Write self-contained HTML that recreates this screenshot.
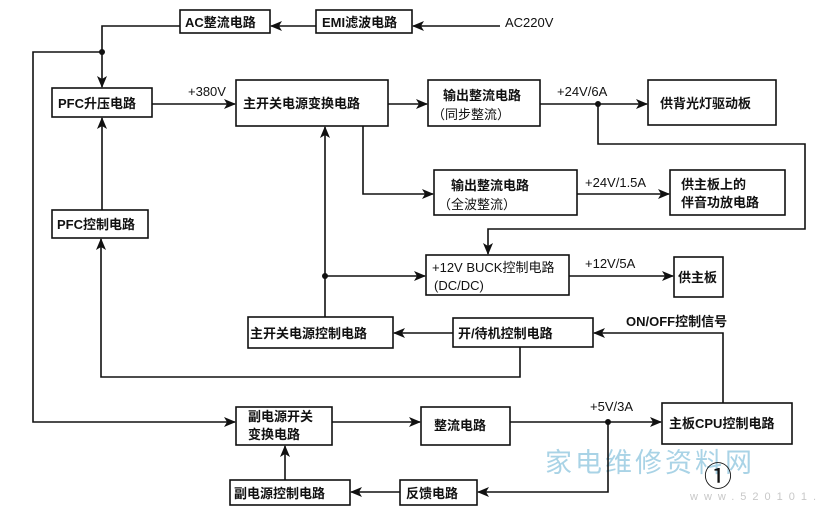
<!DOCTYPE html>
<html><head><meta charset="utf-8"><style>
html,body{margin:0;padding:0;background:#fff;}
svg{display:block;}
text{font-family:"Liberation Sans","Noto Sans CJK SC",sans-serif;font-size:13px;fill:#111;}
.b{font-weight:bold;}
</style></head><body>
<svg width="818" height="513" viewBox="0 0 818 513" xmlns="http://www.w3.org/2000/svg">
<defs>
<marker id="a" markerWidth="12" markerHeight="10" refX="11" refY="5" orient="auto" markerUnits="userSpaceOnUse">
<path d="M0,0 L12,5 L0,10 L3,5 z" fill="#111"/></marker>
</defs>
<text x="545" y="472" style="font-size:27px;fill:#a9d3e6;letter-spacing:3px;">家电维修资料网</text>
<text x="690" y="500" style="font-size:11px;fill:#c8c8c8;letter-spacing:6px;">www.520101.com</text>
<g fill="none" stroke="#111" stroke-width="1.6">
<rect x="180" y="10" width="90" height="23"/>
<rect x="316" y="10" width="96" height="23"/>
<rect x="52" y="88" width="100" height="29"/>
<rect x="236" y="80" width="152" height="46"/>
<rect x="428" y="80" width="112" height="46"/>
<rect x="648" y="80" width="128" height="45"/>
<rect x="434" y="170" width="143" height="45"/>
<rect x="670" y="170" width="115" height="45"/>
<rect x="52" y="210" width="96" height="28"/>
<rect x="426" y="255" width="143" height="40"/>
<rect x="674" y="257" width="49" height="40"/>
<rect x="248" y="317" width="145" height="31"/>
<rect x="453" y="318" width="140" height="29"/>
<rect x="236" y="407" width="96" height="38"/>
<rect x="421" y="407" width="89" height="38"/>
<rect x="662" y="403" width="130" height="41"/>
<rect x="400" y="480" width="77" height="25"/>
<rect x="230" y="480" width="120" height="25"/>
<line x1="500" y1="26" x2="413" y2="26" marker-end="url(#a)"/>
<line x1="316" y1="26" x2="271" y2="26" marker-end="url(#a)"/>
<polyline points="180,26 102,26 102,87" marker-end="url(#a)"/>
<polyline points="102,52 33,52 33,422 235,422" marker-end="url(#a)"/>
<line x1="152" y1="104" x2="235" y2="104" marker-end="url(#a)"/>
<line x1="388" y1="104" x2="427" y2="104" marker-end="url(#a)"/>
<line x1="540" y1="104" x2="647" y2="104" marker-end="url(#a)"/>
<polyline points="598,104 598,144 805,144 805,229 488,229 488,254" marker-end="url(#a)"/>
<polyline points="363,126 363,194 433,194" marker-end="url(#a)"/>
<line x1="577" y1="194" x2="669" y2="194" marker-end="url(#a)"/>
<line x1="102" y1="210" x2="102" y2="118" marker-end="url(#a)"/>
<polyline points="325,317 325,127" marker-end="url(#a)"/>
<line x1="325" y1="276" x2="425" y2="276" marker-end="url(#a)"/>
<line x1="569" y1="276" x2="673" y2="276" marker-end="url(#a)"/>
<line x1="453" y1="333" x2="394" y2="333" marker-end="url(#a)"/>
<polyline points="723,403 723,333 594,333" marker-end="url(#a)"/>
<polyline points="520,347 520,377 101,377 101,239" marker-end="url(#a)"/>
<line x1="332" y1="422" x2="420" y2="422" marker-end="url(#a)"/>
<line x1="510" y1="422" x2="661" y2="422" marker-end="url(#a)"/>
<polyline points="608,422 608,492 478,492" marker-end="url(#a)"/>
<line x1="400" y1="492" x2="351" y2="492" marker-end="url(#a)"/>
<line x1="285" y1="480" x2="285" y2="446" marker-end="url(#a)"/>
</g>
<g fill="#111">
<circle cx="102" cy="52" r="3"/><circle cx="598" cy="104" r="3"/>
<circle cx="325" cy="276" r="3"/><circle cx="608" cy="422" r="3"/>
</g>
<text x="185" y="27" class="b">AC整流电路</text>
<text x="322" y="27" class="b">EMI滤波电路</text>
<text x="505" y="27">AC220V</text>
<text x="58" y="108" class="b">PFC升压电路</text>
<text x="188" y="96">+380V</text>
<text x="243" y="108" class="b">主开关电源变换电路</text>
<text x="443" y="100" class="b">输出整流电路</text>
<text x="432" y="119">（同步整流）</text>
<text x="557" y="96">+24V/6A</text>
<text x="660" y="108" class="b">供背光灯驱动板</text>
<text x="451" y="190" class="b">输出整流电路</text>
<text x="438" y="209">（全波整流）</text>
<text x="585" y="187">+24V/1.5A</text>
<text x="681" y="189" class="b">供主板上的</text>
<text x="681" y="207" class="b">伴音功放电路</text>
<text x="57" y="229" class="b">PFC控制电路</text>
<text x="432" y="272">+12V BUCK控制电路</text>
<text x="434" y="290">(DC/DC)</text>
<text x="585" y="268">+12V/5A</text>
<text x="678" y="282" class="b">供主板</text>
<text x="250" y="338" class="b">主开关电源控制电路</text>
<text x="458" y="338" class="b">开/待机控制电路</text>
<text x="626" y="326" class="b">ON/OFF控制信号</text>
<text x="248" y="421" class="b">副电源开关</text>
<text x="248" y="439" class="b">变换电路</text>
<text x="434" y="430" class="b">整流电路</text>
<text x="590" y="411">+5V/3A</text>
<text x="669" y="428" class="b">主板CPU控制电路</text>
<text x="406" y="498" class="b">反馈电路</text>
<text x="234" y="498" class="b">副电源控制电路</text>
<text x="704" y="486" style="font-size:28px;fill:#111;">①</text>
</svg>
</body></html>
